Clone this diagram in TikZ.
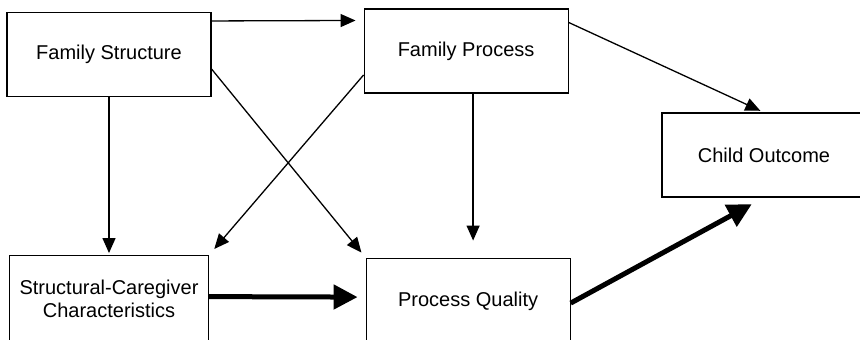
\documentclass[tikz,border=0pt]{standalone}
\usepackage{fontspec}
\setmainfont{Liberation Sans}
\usepackage{tikz}
\usetikzlibrary{positioning}
\usetikzlibrary{arrows.meta}

\begin{document}
\begin{tikzpicture}[x=0.5pt, y=-0.5pt,
boxnode/.style={rectangle, draw=black, line width=0.55pt, minimum width=102pt, minimum height=42pt, align=center, inner sep=0pt, font=\fontsize{10}{11.5}\selectfont},
thinarrow/.style={line width=0.65pt, -{Triangle[length=7.5pt, width=6.5pt]}},
thickarrow/.style={line width=2.5pt, -{Triangle[length=12pt, width=12pt]}},
]
\clip (0,0) rectangle (860,339);

%Nodes
\node[boxnode]      (fs)   at (109,54.5)                          {Family Structure};
\node[boxnode]      (fp)   [right=76pt of fs, yshift=1.75pt]      {Family Process};
\node[boxnode]      (co)   at (764,155)                           {Child Outcome};
\node[boxnode, minimum width=99.5pt, minimum height=43pt]  (sc)  [below=79pt of fs]  {Structural-Caregiver\\Characteristics};
\node[boxnode, minimum height=43pt]  (pq)  [below=82pt of fp, xshift=1pt]  {Process Quality};

%Lines
\draw[thinarrow, shorten >=4pt] ([yshift=-4.5pt]fs.north east) -- ([yshift=-6pt]fp.north west);
\draw[thinarrow, shorten >=3.25pt] ([yshift=-7.25pt]fs.east) -- (pq.north west);
\draw[thinarrow, shorten >=4pt] ([yshift=-12pt]fp.west) -- (sc.north east);
\draw[thinarrow, shorten >=1pt] (fs.south) -- (fs.south |- sc.north);
\draw[thinarrow, shorten >=8.5pt] ([xshift=3.5pt]fp.south) -- ([xshift=2.5pt]pq.north);
\draw[thinarrow, shorten >=2pt] ([yshift=-7pt]fp.north east) -- (co.north);
\draw[thickarrow, shorten >=4pt] ([yshift=1pt]sc.east) -- ([yshift=2pt]pq.west);
\draw[thickarrow, shorten >=7pt] ([yshift=-1pt]pq.east) -- (co.south);
\end{tikzpicture}
\end{document}
